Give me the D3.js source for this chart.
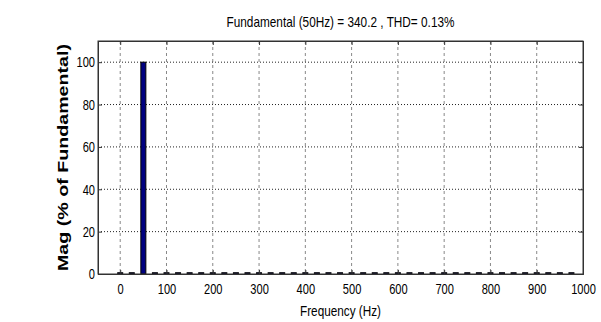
<!DOCTYPE html>
<html>
<head>
<meta charset="utf-8">
<script src="https://cdn.jsdelivr.net/npm/d3@7"></script>
<style>
  body { margin: 0; background: #fff; }
  text { font-family: "Liberation Sans", Arial, sans-serif; }
</style>
</head>
<body>
<div class="canvas"></div>
<script>
const svgWidth = 601, svgHeight = 322
const margin = { top: 41, right: 18, bottom: 48, left: 98 }
const graphWidth = svgWidth - margin.left - margin.right, graphHeight = svgHeight - margin.top - margin.bottom

// data
const titleText = 'Fundamental (50Hz) = 340.2 , THD= 0.13%'
const freqs = [0, 25, 50, 75, 100, 125, 150, 175, 200, 225, 250, 275, 300, 325, 350, 375, 400, 425, 450, 475,
  500, 525, 550, 575, 600, 625, 650, 675, 700, 725, 750, 775, 800, 825, 850, 875, 900, 925, 950, 975]
const mags = [0.6, 0.6, 100, 0.6, 0.6, 0.6, 0.6, 0.6, 0.6, 0.6, 0.6, 0.6, 0.6, 0.6, 0.6, 0.6, 0.6, 0.6, 0.6, 0.6,
  0.6, 0.6, 0.6, 0.6, 0.6, 0.6, 0.6, 0.6, 0.6, 0.6, 0.6, 0.6, 0.6, 0.6, 0.6, 0.6, 0.6, 0.6, 0.6, 0.6]
const xTicks = [0, 100, 200, 300, 400, 500, 600, 700, 800, 900, 1000]
const yTicks = [0, 20, 40, 60, 80, 100]

const svg = d3.select('.canvas')
  .append('svg')
  .attr('width', svgWidth)
  .attr('height', svgHeight)

const graph = svg.append('g')
  .attr('transform', `translate(${margin.left}, ${margin.top})`)

// scales
const x = d3.scaleLinear().domain([-48, 1000]).range([0, graphWidth])
const y = d3.scaleLinear().domain([0, 110]).range([graphHeight, 0])

// grid
graph.append('g')
  .selectAll('line')
  .data(xTicks.filter(d => d < 1000))
  .join('line')
  .attr('x1', d => x(d)).attr('x2', d => x(d))
  .attr('y1', 0).attr('y2', graphHeight)
  .attr('stroke', '#888')
  .attr('stroke-dasharray', '3,3')

graph.append('g')
  .selectAll('line')
  .data(yTicks.filter(d => d > 0))
  .join('line')
  .attr('x1', 0).attr('x2', graphWidth)
  .attr('y1', d => y(d)).attr('y2', d => y(d))
  .attr('stroke', '#222')
  .attr('stroke-dasharray', '1,2')

// bars
const barW = 5
graph.append('g')
  .selectAll('rect')
  .data(freqs.map((f, i) => ({ f, m: mags[i] })))
  .join('rect')
  .attr('x', d => x(d.f) - barW / 2)
  .attr('y', d => y(d.m))
  .attr('width', barW)
  .attr('height', d => graphHeight - y(d.m))
  .attr('fill', '#000080')
  .attr('stroke', '#000')
  .attr('stroke-width', 1)

// axes
const sx = 0.74
const xAxis = d3.axisBottom(x).tickValues(xTicks).tickSize(-4).tickPadding(9).tickFormat(d3.format('d'))
const yAxis = d3.axisLeft(y).tickValues(yTicks).tickSize(-4).tickPadding(3).tickFormat(d3.format('d'))

graph.append('g')
  .attr('transform', `translate(0, ${graphHeight})`)
  .call(xAxis)

graph.append('g').call(yAxis)

graph.append('g')
  .call(d3.axisTop(x).tickValues(xTicks).tickSize(-4).tickFormat(''))
graph.append('g')
  .attr('transform', `translate(${graphWidth}, 0)`)
  .call(d3.axisRight(y).tickValues(yTicks).tickSize(-4).tickFormat(''))

svg.selectAll('.domain').attr('stroke', '#333')
svg.selectAll('.tick line').attr('stroke', '#333')
svg.selectAll('.tick text')
  .attr('fill', '#000')
  .style('font-family', '"Liberation Sans", Arial, sans-serif')
  .style('font-size', '15px')
  .attr('x', function () { return +d3.select(this).attr('x') / sx })
  .attr('transform', `scale(${sx}, 1)`)

// box
graph.append('rect')
  .attr('width', graphWidth)
  .attr('height', graphHeight)
  .attr('fill', 'none')
  .attr('stroke', '#333')

// labels
svg.append('text')
  .attr('x', margin.left + graphWidth / 2)
  .attr('y', 27)
  .attr('text-anchor', 'middle')
  .attr('textLength', 228)
  .attr('lengthAdjust', 'spacingAndGlyphs')
  .style('font-size', '15px')
  .text(titleText)

svg.append('text')
  .attr('x', margin.left + graphWidth / 2)
  .attr('y', 316)
  .attr('text-anchor', 'middle')
  .attr('textLength', 81)
  .attr('lengthAdjust', 'spacingAndGlyphs')
  .style('font-size', '15px')
  .text('Frequency (Hz)')

svg.append('text')
  .attr('transform', `translate(68, ${margin.top + graphHeight / 2}) rotate(-90)`)
  .attr('text-anchor', 'middle')
  .attr('textLength', 227)
  .attr('lengthAdjust', 'spacingAndGlyphs')
  .style('font-weight', 'bold')
  .style('font-size', '14px')
  .text('Mag (% of Fundamental)')
</script>
</body>
</html>
